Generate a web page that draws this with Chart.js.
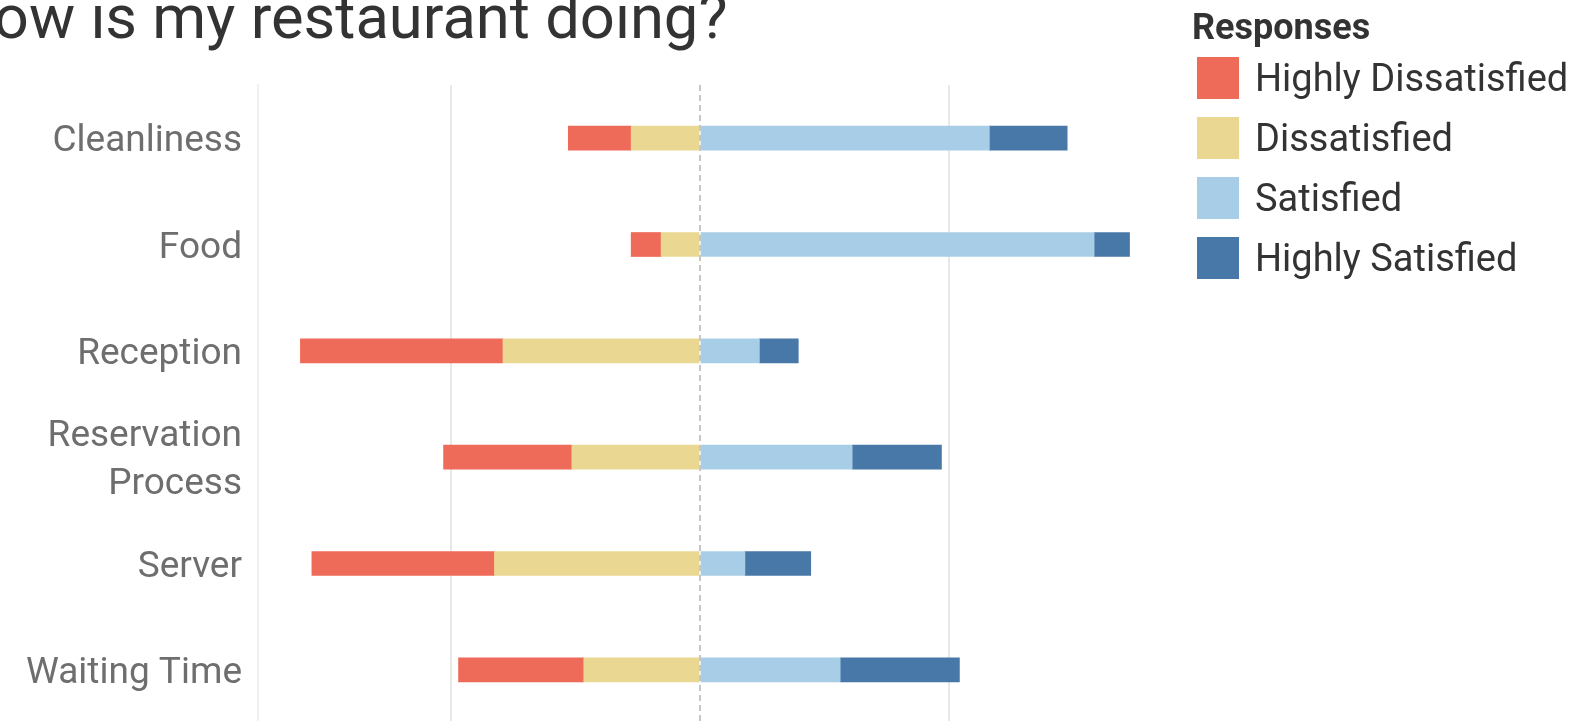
<!DOCTYPE html>
<html>
<head>
<meta charset="utf-8">
<script src="https://cdn.jsdelivr.net/npm/chart.js@4.4.1/dist/chart.umd.min.js"></script>
<style>
  body { margin: 0; background: #fff; overflow: hidden; }
  #wrap { position: relative; width: 1580px; height: 721px; overflow: hidden; }
  #box { position: absolute; left: 0; top: 0; width: 1580px; height: 723px; }
  #title {
    position: absolute; left: -50px; top: -13px;
    font: 61.5px/61.5px Roboto, sans-serif; color: #333; white-space: nowrap;
  }
  #legend { position: absolute; left: 1193px; top: 0; font-family: Roboto, sans-serif; }
  #legend .ttl { position: absolute; left: -1px; top: 6px; font: bold 36px/42px Roboto, sans-serif; color: #333; white-space: nowrap; }
  #legend .item { position: absolute; left: 4px; height: 42px; display: flex; align-items: center; white-space: nowrap; }
  #legend .sw { width: 42px; height: 42px; margin-right: 16px; }
  #legend .lbl { font: 38px/42px Roboto, sans-serif; color: #333; }
</style>
</head>
<body>
<div id="wrap">
  <div id="box"><canvas id="chart"></canvas></div>
  <div id="title">How is my restaurant doing?</div>
  <div id="legend"></div>
</div>
<script>
// share of responses (%) per aspect
let categories = ['Cleanliness', 'Food', 'Reception', ['Reservation', 'Process'], 'Server', 'Waiting Time'];
let highlyDissatisfied = [12.6, 6.0, 40.6, 25.7, 36.6, 25.1];
let dissatisfied = [13.8, 7.8, 39.5, 25.7, 41.2, 23.3];
let satisfied = [58.0, 79.0, 11.9, 30.5, 9.0, 28.1];
let highlySatisfied = [15.6, 7.1, 7.8, 17.9, 13.2, 23.9];

let seriesNames = ['Highly Dissatisfied', 'Dissatisfied', 'Satisfied', 'Highly Satisfied'];
let seriesColors = ['#EE6A59', '#EAD791', '#A8CEE7', '#4878A8'];

// dashed line at zero, drawn over the bars
const zeroLine = {
    id: 'zeroLine',
    afterDatasetsDraw(chart) {
        const ctx = chart.ctx;
        const x = Math.round(chart.scales.x.getPixelForValue(0));
        const area = chart.chartArea;
        ctx.save();
        ctx.strokeStyle = '#c6c6c6';
        ctx.lineWidth = 2;
        ctx.setLineDash([6, 4]);
        ctx.beginPath();
        ctx.moveTo(x, area.top);
        ctx.lineTo(x, area.bottom);
        ctx.stroke();
        ctx.restore();
    }
};

let ctx = document.getElementById('chart').getContext('2d');
let chart = new Chart(ctx, {
    type: 'bar',
    data: {
        labels: categories,
        datasets: [
            // negatives: first one sits next to zero
            { label: seriesNames[1], data: dissatisfied.map(v => -v), backgroundColor: seriesColors[1] },
            { label: seriesNames[0], data: highlyDissatisfied.map(v => -v), backgroundColor: seriesColors[0] },
            { label: seriesNames[2], data: satisfied, backgroundColor: seriesColors[2] },
            { label: seriesNames[3], data: highlySatisfied, backgroundColor: seriesColors[3] }
        ]
    },
    options: {
        indexAxis: 'y',
        responsive: true,
        maintainAspectRatio: false,
        animation: false,
        datasets: {
            bar: { barThickness: 24, borderWidth: 0 }
        },
        layout: {
            padding: { left: 0, right: 430, top: 85, bottom: 0 }
        },
        plugins: {
            legend: { display: false },
            tooltip: { enabled: false }
        },
        scales: {
            x: {
                stacked: true,
                min: -88.6,
                max: 90.2,
                ticks: { display: false, stepSize: 50 },
                grid: {
                    drawTicks: false,
                    color: c => (c.tick && Math.abs(c.tick.value) === 50) ? '#e8e8e8' : 'rgba(0,0,0,0)',
                    lineWidth: 2
                },
                border: { display: false },
                afterFit: axis => { axis.height = 0; }
            },
            y: {
                stacked: true,
                grid: { display: false, drawTicks: false },
                border: { display: true, color: '#f0f0f0', width: 2 },
                ticks: {
                    color: '#6e6e6e',
                    padding: 16,
                    labelOffset: 4,
                    font: { family: 'Roboto', size: 37, lineHeight: 1.3 }
                },
                afterFit: axis => {
                    axis.width = 258;
                    axis.paddingTop = 0;
                    axis.paddingBottom = 0;
                }
            }
        }
    },
    plugins: [zeroLine]
});

// legend in the original order
let legend = document.getElementById('legend');
let ttl = document.createElement('div');
ttl.className = 'ttl';
ttl.textContent = 'Responses';
legend.appendChild(ttl);
seriesNames.forEach((name, i) => {
    let item = document.createElement('div');
    item.className = 'item';
    item.style.top = (57 + i * 60) + 'px';
    item.innerHTML = '<div class="sw" style="background:' + seriesColors[i] + '"></div><span class="lbl">' + name + '</span>';
    legend.appendChild(item);
});
</script>
</body>
</html>
